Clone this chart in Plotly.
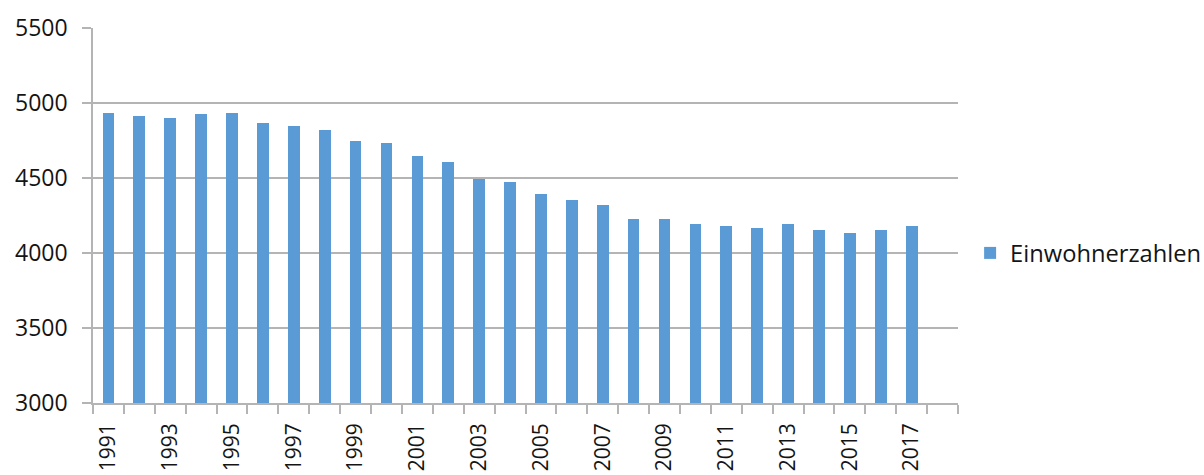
import plotly.graph_objects as go

# Einwohnerzahlen je Jahr
years = [1991, 1992, 1993, 1994, 1995, 1996, 1997, 1998, 1999, 2000,
         2001, 2002, 2003, 2004, 2005, 2006, 2007, 2008, 2009, 2010,
         2011, 2012, 2013, 2014, 2015, 2016, 2017]
einwohner = [4936, 4916, 4900, 4929, 4936, 4869, 4845, 4822, 4745, 4731,
             4645, 4607, 4496, 4473, 4391, 4355, 4318, 4224, 4224, 4196,
             4183, 4167, 4193, 4155, 4133, 4155, 4177]

label_years = [1991, 1993, 1995, 1997, 1999, 2001, 2003, 2005, 2007,
               2009, 2011, 2013, 2015, 2017]
y_ticks = [3000, 3500, 4000, 4500, 5000, 5500]

bar_color = "#5b9bd5"
grid_color = "#b4b4b4"
text_color = "#141414"
font_family = "Open Sans, Noto Sans, sans-serif"

fig = go.Figure()
fig.add_trace(go.Bar(
    x=years,
    y=einwohner,
    width=0.38,
    marker=dict(color=bar_color, line=dict(width=0)),
    name="Einwohnerzahlen",
    showlegend=True,
))

boundaries = [y - 0.5 for y in years] + [years[-1] + 0.5, years[-1] + 1.5]

fig.update_layout(
    width=1204,
    height=475,
    margin=dict(l=93, r=246, t=28, b=72, autoexpand=False),
    paper_bgcolor="white",
    plot_bgcolor="white",
    font=dict(family=font_family, size=23, color=text_color),
    bargap=0,
    legend=dict(
        x=1.014, y=0.4, xanchor="left", yanchor="middle",
        font=dict(size=23.7, color=text_color),
        bgcolor="rgba(0,0,0,0)",
    ),
    xaxis=dict(
        automargin=False,
        range=[years[0] - 0.5, years[-1] + 1.5],
        tickmode="array",
        tickvals=label_years,
        ticktext=[str(y) for y in label_years],
        tickangle=-90,
        tickfont=dict(size=21),
        ticks="",
        ticklabelstandoff=10,
        showgrid=False,
        showline=True,
        linecolor=grid_color,
        linewidth=1.5,
        zeroline=False,
        minor=dict(
            tickvals=boundaries,
            ticks="outside",
            ticklen=9,
            tickcolor=grid_color,
            tickwidth=1.5,
            showgrid=False,
        ),
    ),
    yaxis=dict(
        automargin=False,
        range=[3000, 5500],
        tickmode="array",
        tickvals=y_ticks,
        ticks="outside",
        ticklen=9,
        tickcolor=grid_color,
        tickwidth=1.5,
        showgrid=True,
        gridcolor=grid_color,
        gridwidth=1.5,
        showline=True,
        linecolor=grid_color,
        linewidth=1.5,
        zeroline=False,
        ticklabelstandoff=10,
    ),
)

fig.write_html("out.html")
